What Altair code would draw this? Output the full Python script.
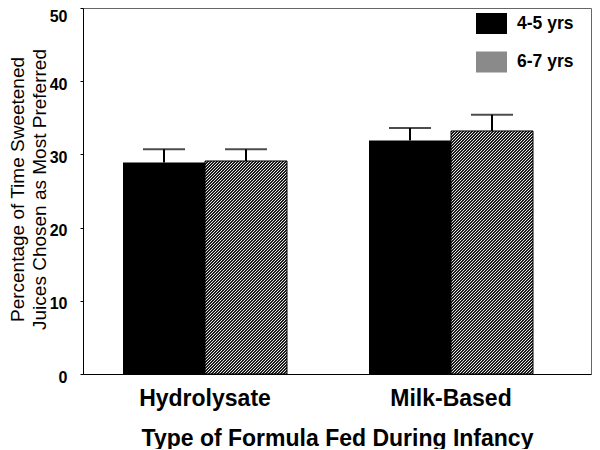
import altair as alt
import pandas as pd

formulas = ["Hydrolysate", "Milk-Based"]
ages = ["4-5 yrs", "6-7 yrs"]
means_45 = [28.9, 31.9]
means_67 = [29.1, 33.2]
upper_45 = [30.7, 33.6]
upper_67 = [30.7, 35.4]

rows = []
for i, f in enumerate(formulas):
    rows.append({"formula": f, "age": ages[0], "mean": means_45[i], "upper": upper_45[i]})
    rows.append({"formula": f, "age": ages[1], "mean": means_67[i], "upper": upper_67[i]})
df = pd.DataFrame(rows)

FONT = "Liberation Sans"
W, H = 508, 366
Y_MAX = 50

# band layout: bar width 82px, gap 82px between groups
STEP = 246.0
P_INNER = 82.0 / STEP
P_OUTER = 98.0 / (2 * STEP)
ALIGN = 40.0 / 98.0
BAR_W = STEP * (1 - P_INNER) / 2


def hatch_for(h, period=3.0, duty=0.5, dark="#1c1c1c", light="#e6e6e6"):
    """45-degree diagonal hatch made from a hard-stop linear gradient."""
    w = BAR_W
    k = (w + h) / (w * w + h * h)
    span = w + h
    stops = []
    pos = 0.0
    while pos < span:
        t0 = pos / span
        t1 = min((pos + duty * period) / span, 1.0)
        t2 = min((pos + period) / span, 1.0)
        stops += [
            alt.GradientStop(offset=t0, color=dark),
            alt.GradientStop(offset=t1, color=dark),
            alt.GradientStop(offset=t1, color=light),
            alt.GradientStop(offset=t2, color=light),
        ]
        pos += period
    return alt.LinearGradient(gradient="linear", stops=stops, x1=0, y1=0, x2=w * k, y2=h * k)


x_enc = alt.X(
    "formula:N",
    sort=formulas,
    scale=alt.Scale(paddingInner=P_INNER, paddingOuter=P_OUTER, align=ALIGN),
    axis=alt.Axis(
        title="Type of Formula Fed During Infancy",
        labelAngle=0,
        labelFontSize=23,
        labelFontWeight="bold",
        labelColor="black",
        labelBaseline="alphabetic",
        labelPadding=31,
        ticks=False,
        domainColor="black",
        domainWidth=1,
        titleFontSize=23,
        titleFontWeight="bold",
        titleColor="black",
        titleBaseline="alphabetic",
        titleY=71,
    ),
)
xoff_enc = alt.XOffset("age:N", sort=ages, scale=alt.Scale(paddingInner=0, paddingOuter=0))

y_scale = alt.Scale(domain=[0, Y_MAX], nice=False)
y_axis = alt.Axis(
    values=list(range(0, 51, 5)),
    labelExpr="datum.value % 10 == 0 ? datum.label : ''",
    tickSize=3,
    tickColor="black",
    domainColor="black",
    labelPadding=13,
    labelFontSize=16,
    labelFontWeight="bold",
    labelColor="black",
    labelOffset=alt.condition("datum.value == 50", alt.value(8), alt.value(3)),
    grid=False,
    title=["Percentage of Time Sweetened", "Juices Chosen as Most Preferred"],
    titleFontSize=19,
    titleFontWeight="normal",
    titleColor="black",
    titleAngle=270,
    titleAlign="center",
    titleBaseline="top",
    titleX=-75,
    titleY=181,
    titleLineHeight=22,
)

base = alt.Chart(df).encode(x=x_enc, xOffset=xoff_enc)

bars = base.mark_bar().encode(
    y=alt.Y("mean:Q", scale=y_scale, axis=y_axis),
    color=alt.Color(
        "age:N",
        sort=ages,
        scale=alt.Scale(domain=ages, range=["black", "#8a8a8a"]),
        legend=alt.Legend(
            orient="none",
            legendX=393,
            legendY=0,
            title=None,
            symbolType="M-1,-0.677L1,-0.677L1,0.677L-1,0.677Z",
            symbolSize=961,
            symbolStrokeWidth=0,
            labelFontSize=17.5,
            labelFontWeight="bold",
            labelColor="black",
            labelOffset=10,
            rowPadding=12.5,
            padding=0,
        ),
    ),
)

hatch_layers = []
for i, f in enumerate(formulas):
    h = means_67[i] / Y_MAX * H
    hatch_layers.append(
        base.transform_filter((alt.datum.age == ages[1]) & (alt.datum.formula == f))
        .mark_bar(color=hatch_for(h), stroke="black", strokeWidth=1)
        .encode(y=alt.Y("mean:Q", scale=y_scale))
    )

err = base.mark_rule(color="black", strokeWidth=2).encode(
    y=alt.Y("mean:Q", scale=y_scale), y2="upper:Q"
)
caps = base.mark_tick(color="black", thickness=2, size=42).encode(
    y=alt.Y("upper:Q", scale=y_scale)
)

chart = (
    alt.layer(bars, *hatch_layers, err, caps)
    .properties(
        width=W,
        height=H,
        autosize=alt.AutoSizeParams(type="none"),
        padding={"left": 75, "top": 0, "right": 1, "bottom": 75},
    )
    .configure(font=FONT)
    .configure_view(stroke="#666666", strokeWidth=1)
)

chart.save("out.html", embed_options={"renderer": "svg", "actions": False})
